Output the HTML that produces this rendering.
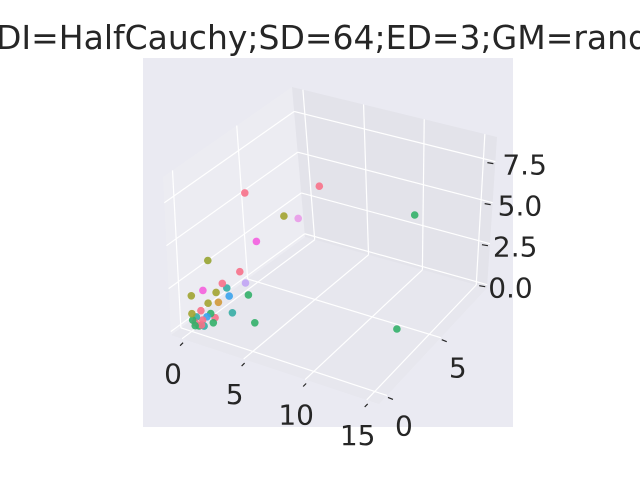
<!DOCTYPE html>
<html><head><meta charset="utf-8"><style>
html,body{margin:0;padding:0;background:#fff;}
svg{display:block;font-family:"DejaVu Sans","Liberation Sans",sans-serif;}
</style></head><body>
<svg id="chart" width="640" height="480" viewBox="0 0 640 480" xmlns="http://www.w3.org/2000/svg">
<rect x="143" y="58" width="370" height="369" fill="#eaeaf2"/>
<g id="panes"></g>
<g id="grid"></g>
<g id="points"></g>
<g id="ticks"></g>
<text x="-4" y="49" font-size="33" fill="#262626">DI=HalfCauchy;SD=64;ED=3;GM=random</text>
</svg>
<script>
const xTicks = [0, 5, 10, 15];
const yTicks = [0, 5];
const zTicks = [0, 2.5, 5, 7.5];
const zTickLabels = ["0.0", "2.5", "5.0", "7.5"];
const xs = [2.7, 4.6, 10.6, 3.7, 3.8, 2.4, 1.05, 2.0, 1.6, 1.3, 1.4, 0.75, 1.05, 1.0, 1.5, 0.1, 0.9, 1.2, 1.2, 3.3, 12.7, 0.92, 1.08, 0.76, 0.08, 0.5, 0.86, 0.2, 0.4, 0.1, 0.6, 0.3, 0.5, 0.0, 0.7];
const ys = [2, 6, 8, 4, 5, 3, 0.5, 2, 1, 3, 1.5, 0.3, 1, 2, 3, 0, 0.5, 1, 2, 1.8, 4.45, 0.8, 0.5, 0.5, 0, 0.3, 1, 0.1, 0.2, 0.3, 0.2, 0.0, 0.4, 0.1, 0.3];
const zs = [7.4, 5.9, 4.1, 5.1, 4.4, 3.9, 3.9, 2.6, 2.4, 1.2, 1.8, 2.2, 1.75, 0.94, 0.54, 1.9, 1.37, 1.2, 0.0, 0.0, 0.0, 0.05, 0.8, 0.54, 0.85, 0.95, 0.22, 0.3, 0.1, 0.5, 0.2, 0.2, 0.35, 0.4, 0.1];
const colors = ["#f77189","#f77189","#33b069","#a3a431","#e99be8","#f45fe0","#97a431","#f77189","#f77189","#c1a4f4","#36ada4","#f561dd","#a3a431","#3ba3ec","#33b069","#a0a431","#a3a431","#d1993a","#36ada4","#33b069","#33b069","#33b069","#33b069","#3ba3ec","#a3a431","#f77189","#f77189","#f77189","#33b069","#36ada4","#f77189","#33b069","#f77189","#33b069","#36ada4"];

const X0=-0.9, X1=16, Y0=-0.74, Y1=9.3, Z0=-0.2, Z1=9.0;
const C = {FL:[171,335], FR:[379,404], BL:[305,237], BR:[487,288]};
const H = {FL:158, FR:160, BL:150, BR:151};
const DX = {FL:-8, FR:0, BL:-13, BR:10};
function lerp(a,b,t){return a+(b-a)*t;}
function proj(x,y,z){
  const u=(x-X0)/(X1-X0), v=(y-Y0)/(Y1-Y0), w=(z-Z0)/(Z1-Z0);
  const bl=(k)=>lerp(lerp(C.FL[k],C.FR[k],u),lerp(C.BL[k],C.BR[k],u),v);
  const bs=(o)=>lerp(lerp(o.FL,o.FR,u),lerp(o.BL,o.BR,u),v);
  return [bl(0)+w*bs(DX), bl(1)-w*bs(H)];
}
const NS="http://www.w3.org/2000/svg";
function mk(tag,attrs,parent){const e=document.createElementNS(NS,tag);for(const k in attrs)e.setAttribute(k,attrs[k]);parent.appendChild(e);return e;}
function poly(pts){return pts.map(p=>p[0].toFixed(1)+","+p[1].toFixed(1)).join(" ");}
const panes=document.getElementById('panes');
let p;
p=mk('polygon',{points:poly([proj(X0,Y0,Z0),proj(X1,Y0,Z0),proj(X1,Y1,Z0),proj(X0,Y1,Z0)]),fill:"#e7e7ee"},panes);


p=mk('polygon',{points:poly([proj(X0,Y0,Z0),proj(X0,Y1,Z0),proj(X0,Y1,Z1),proj(X0,Y0,Z1)]),fill:"#ececf2"},panes);


p=mk('polygon',{points:poly([proj(X0,Y1,Z0),proj(X1,Y1,Z0),proj(X1,Y1,Z1),proj(X0,Y1,Z1)]),fill:"#e3e3ea"},panes);



const grid=document.getElementById('grid');
function gl(a,b,name){const l=mk('line',{x1:a[0],y1:a[1],x2:b[0],y2:b[1],stroke:"#fff","stroke-width":1.2},grid);

}
xTicks.forEach(x=>{gl(proj(x,Y0,Z0),proj(x,Y1,Z0),'x-grid-floor');gl(proj(x,Y1,Z0),proj(x,Y1,Z1),'x-grid-back');});
yTicks.forEach(y=>{gl(proj(X0,y,Z0),proj(X1,y,Z0),'y-grid-floor');gl(proj(X0,y,Z0),proj(X0,y,Z1),'y-grid-left');});
zTicks.forEach(z=>{gl(proj(X0,Y0,z),proj(X0,Y1,z),'z-grid-left');gl(proj(X0,Y1,z),proj(X1,Y1,z),'z-grid-back');});

const pts=document.getElementById('points');
const order=xs.map((_,i)=>i).sort((a,b)=>ys[b]-ys[a]);
order.forEach(i=>{const q=proj(xs[i],ys[i],zs[i]);
 const c=mk('circle',{cx:q[0].toFixed(1),cy:q[1].toFixed(1),r:3.8,fill:colors[i],"fill-opacity":0.9},pts);
 
 
});

const tk=document.getElementById('ticks');
function lab(x,y,t,name,anchor){const e=mk('text',{x:x,y:y,"font-size":28,fill:"#262626","text-anchor":anchor||"middle"},tk);e.textContent=t;

}
function tm(a,b,name){const l=mk('line',{x1:a[0],y1:a[1],x2:b[0],y2:b[1],stroke:"#262626","stroke-width":1.2},tk);

}
xTicks.forEach(x=>{const q=proj(x,Y0,Z0);tm([q[0]+1,q[1]+4],[q[0]-2,q[1]+7],'x-tick');lab(q[0]-9,q[1]+45,String(x),'x-tick-label');});
yTicks.forEach(y=>{const q=proj(X1,y,Z0);tm([q[0]+1,q[1]+2],[q[0]+6,q[1]+4],'y-tick');lab(q[0]+17,q[1]+40,String(y),'y-tick-label');});
zTicks.forEach((z,i)=>{const q=proj(X1,Y1,z);tm([q[0]-8,q[1]+1],[q[0]-2,q[1]+2],'z-tick');lab(q[0]+1+i*2,q[1]+13,zTickLabels[i],'z-tick-label','start');});
</script>
</body></html>
